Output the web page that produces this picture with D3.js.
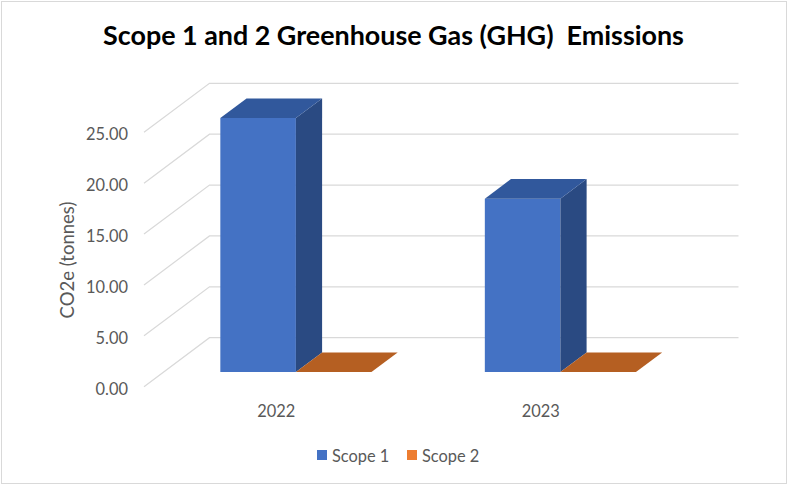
<!DOCTYPE html>
<html lang="en">
<head>
    <meta charset="UTF-8">
    <title>Scope 1 and 2 Greenhouse Gas (GHG) Emissions</title>
    <style>
        body {
            margin: 0;
            background: #fff;
        }

        .grid {
            fill: none;
            stroke: #d9d9d9;
            stroke-width: 1.2;
        }

        .tick-label,
        .cat-label,
        .legend-label,
        .axis-title {
            font-family: Lato, "Noto Sans", sans-serif;
            fill: #595959;
            font-size: 16.4px;
        }

        .axis-title {
            font-size: 18.5px;
        }

        .title {
            font-family: Lato, "Noto Sans", sans-serif;
            font-weight: bold;
            fill: #000;
        }
    </style>
</head>
<body>
    <svg id="chart" width="791" height="486"></svg>

    <script src="https://d3js.org/d3.v7.min.js"></script>
    <script>
        // chart data
        const categories = ["2022", "2023"];
        const seriesNames = ["Scope 1", "Scope 2"];
        const scope1 = [24.96, 17.03];
        const scope2 = [0, 0];
        const yTicks = [0, 5, 10, 15, 20, 25];
        const tickLabels = ["0.00", "5.00", "10.00", "15.00", "20.00", "25.00"];

        const seriesValues = [scope1, scope2];
        const colors = {
            "Scope 1": { front: "#4472C4", top: "#31589C", side: "#2A4A82" },
            "Scope 2": { front: "#ED7D31", top: "#B55F22", side: "#9E521C" }
        };

        const svg = d3.select("#chart");

        // oblique projection: depth runs from front (0) to back wall (1)
        const depthX = 65.5, depthY = 49;
        const barFront = 0.3, barBack = 0.7;

        const y = d3.scaleLinear().domain([0, 25]).range([386.7, 132.3]);
        const x = d3.scaleBand().domain(categories).range([144, 673]);
        const xs = d3.scaleBand().domain(seriesNames).range([0, x.bandwidth()])
            .paddingInner(0).paddingOuter(0.75);

        function proj(px, py, t) {
            return [px + t * depthX, py - t * depthY];
        }

        // border
        svg.append("rect")
            .attr("x", 1.5).attr("y", 1.5)
            .attr("width", 785).attr("height", 482)
            .attr("fill", "#fff")
            .attr("stroke", "#d9d9d9");

        // gridlines: side wall diagonal then along the back wall
        const [x0, x1] = x.range();
        yTicks.forEach(v => {
            const a = proj(x0, y(v), 0), b = proj(x0, y(v), 1), c = proj(x1, y(v), 1);
            svg.append("polyline")
                .attr("class", "grid")
                .attr("points", [a, b, c].map(p => p.join(",")).join(" "));
        });

        // tick labels
        yTicks.forEach((v, i) => {
            svg.append("text")
                .attr("class", "tick-label")
                .attr("x", 128)
                .attr("y", y(v) + 1.5)
                .attr("text-anchor", "end")
                .attr("dominant-baseline", "central")
                .text(tickLabels[i]);
        });

        // bars
        const poly = pts => pts.map(p => p.join(",")).join(" ");
        categories.forEach((cat, ci) => {
            seriesNames.forEach((s, si) => {
                const v = seriesValues[si][ci];
                const left = x(cat) + xs(s), right = left + xs.bandwidth();
                const yb = y(0), yt = y(v);
                const col = colors[s];
                const g = svg.append("g");

                if (v > 0) {
                    g.append("polygon")
                        .attr("points", poly([proj(left, yt, barFront), proj(right, yt, barFront),
                            proj(right, yb, barFront), proj(left, yb, barFront)]))
                        .attr("fill", col.front);
                    g.append("polygon")
                        .attr("points", poly([proj(right, yt, barFront), proj(right, yt, barBack),
                            proj(right, yb, barBack), proj(right, yb, barFront)]))
                        .attr("fill", col.side);
                }
                g.append("polygon")
                    .attr("points", poly([proj(left, yt, barFront), proj(left, yt, barBack),
                        proj(right, yt, barBack), proj(right, yt, barFront)]))
                    .attr("fill", col.top);
            });

            svg.append("text")
                .attr("class", "cat-label")
                .attr("x", x(cat) + x.bandwidth() / 2)
                .attr("y", 410)
                .attr("text-anchor", "middle")
                .attr("dominant-baseline", "central")
                .text(cat);
        });

        // axis title
        svg.append("text")
            .attr("class", "axis-title")
            .attr("transform", "translate(67,260) rotate(-90)")
            .attr("text-anchor", "middle")
            .attr("dominant-baseline", "central")
            .text("CO2e (tonnes)");

        // chart title, sized to the original width
        const title = svg.append("text")
            .attr("class", "title")
            .attr("x", 393.5)
            .attr("y", 45)
            .attr("text-anchor", "middle")
            .style("font-size", "24px")
            .attr("xml:space", "preserve")
            .text("Scope 1 and 2 Greenhouse Gas (GHG)  Emissions");
        const tw = title.node().getComputedTextLength();
        title.style("font-size", (24 * 581 / tw) + "px");

        // legend
        const legendX = [317, 407];
        seriesNames.forEach((s, i) => {
            svg.append("rect")
                .attr("x", legendX[i]).attr("y", 450)
                .attr("width", 10).attr("height", 10)
                .attr("fill", colors[s].front);
            svg.append("text")
                .attr("class", "legend-label")
                .attr("x", legendX[i] + 15)
                .attr("y", 455)
                .attr("dominant-baseline", "central")
                .text(s);
        });
    </script>
</body>
</html>
